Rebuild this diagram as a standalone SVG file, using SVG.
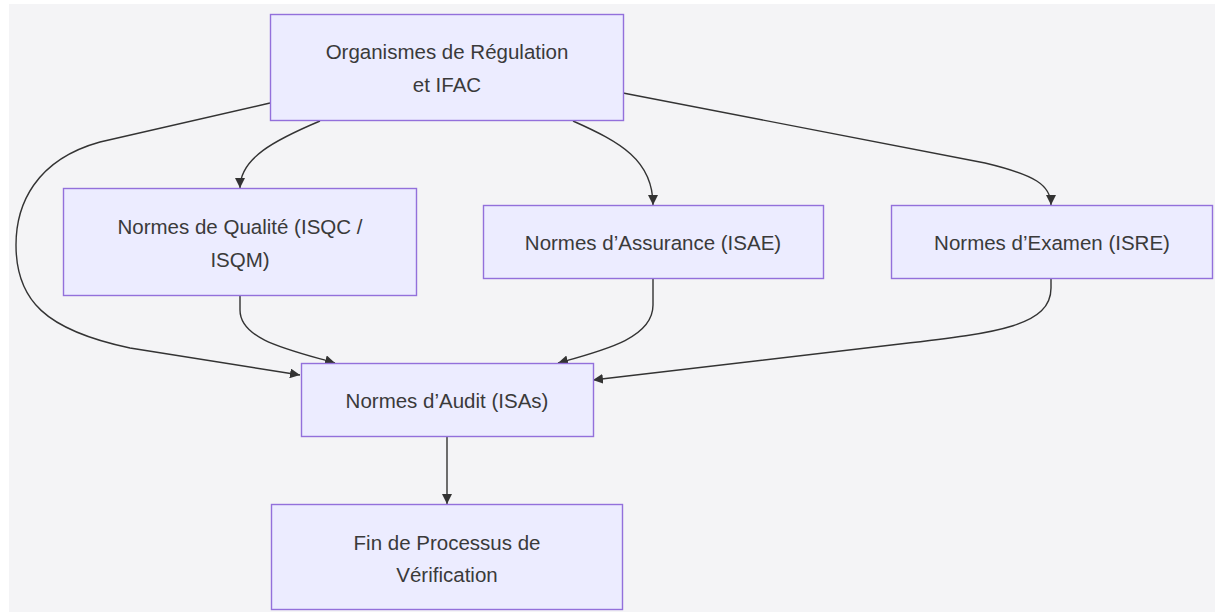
<svg xmlns="http://www.w3.org/2000/svg" width="1215" height="612" viewBox="0 0 1215 612">
<defs>
<style>
.node rect{fill:#ECECFF;stroke:#9370DB;stroke-width:1.4}
.node text{font-family:"Liberation Sans",Arial,sans-serif;font-size:20.5px;fill:#3a3a3a;text-anchor:middle}
.edge{fill:none;stroke:#333333;stroke-width:1.4}
</style>
<marker id="arr" viewBox="0 0 10 10" refX="10" refY="5" markerWidth="10" markerHeight="10" markerUnits="userSpaceOnUse" orient="auto">
<path d="M0,0 L10,5 L0,10 z" fill="#333333"/>
</marker>
</defs>
<rect x="0" y="0" width="1215" height="612" fill="#ffffff"/>
<rect x="9" y="4" width="1206" height="608" fill="#f4f4f6"/>
<g id="connectors">
<path class="edge" d="M320,121 C275,140 240,158 240,188" marker-end="url(#arr)"/>
<path class="edge" d="M573,121 C620,142 653,160 653,205" marker-end="url(#arr)"/>
<path class="edge" d="M623,93 L985,163 C1035,175 1051,185 1051,205" marker-end="url(#arr)"/>
<path class="edge" d="M270,103 L100,142 C35,160 16,205 16,245 C16,300 45,330 130,348 L300,375" marker-end="url(#arr)"/>
<path class="edge" d="M240,296 L240,310 C240,340 290,350 335,363" marker-end="url(#arr)"/>
<path class="edge" d="M653,279 L653,305 C653,338 605,350 558,363" marker-end="url(#arr)"/>
<path class="edge" d="M1051,279 L1051,288 C1051,325 1000,333 900,344 L593,380" marker-end="url(#arr)"/>
<path class="edge" d="M447,437 L447,504" marker-end="url(#arr)"/>
</g>
<g id="node-regul" class="node">
<rect x="270.5" y="14.5" width="353" height="106"/>
<text x="447" y="59">Organismes de Régulation</text>
<text x="447" y="92">et IFAC</text>
</g>
<g id="node-qualite" class="node">
<rect x="63.5" y="188.5" width="353" height="107"/>
<text x="240" y="234">Normes de Qualité (ISQC /</text>
<text x="240" y="267">ISQM)</text>
</g>
<g id="node-assurance" class="node">
<rect x="483.5" y="205.5" width="340" height="73"/>
<text x="653" y="250">Normes d’Assurance (ISAE)</text>
</g>
<g id="node-examen" class="node">
<rect x="891.5" y="205.5" width="321" height="73"/>
<text x="1052" y="250">Normes d’Examen (ISRE)</text>
</g>
<g id="node-audit" class="node">
<rect x="301.5" y="363.5" width="292" height="73"/>
<text x="447" y="408">Normes d’Audit (ISAs)</text>
</g>
<g id="node-fin" class="node">
<rect x="271.5" y="504.5" width="351" height="105"/>
<text x="447" y="550">Fin de Processus de</text>
<text x="447" y="582">Vérification</text>
</g>
</svg>
